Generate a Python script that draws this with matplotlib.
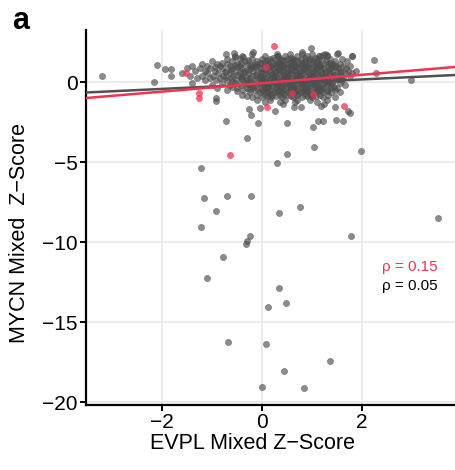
import matplotlib

matplotlib.use("Agg")
import matplotlib.pyplot as plt
import numpy as np

plt.rcParams["font.family"] = ["Liberation Sans", "DejaVu Sans"]

# dense core of the cloud: MYCN z -> list of EVPL z
core_rows = {
    1.75: [-0.2, 0.3, 0.55, 0.8, 1.0, 1.25, 1.5],
    1.6: [-0.55, -0.4, 0.05, 0.3, 0.45, 0.7, 0.9, 1.15, 1.3, 1.8],
    1.45: [-0.7, -0.45, -0.2, 0.0, 0.15, 0.35, 0.5, 0.62, 0.78, 0.95, 1.1, 1.35, 1.6],
    1.3: [-1.0, -0.6, -0.35, -0.1, 0.05, 0.2, 0.33, 0.45, 0.6, 0.72, 0.85, 1.0, 1.12,
          1.28, 1.45, 1.7],
    1.15: [-1.2, -0.9, -0.7, -0.5, -0.3, -0.15, 0.0, 0.12, 0.25, 0.38, 0.5, 0.63, 0.75,
           0.88, 1.02, 1.15, 1.3, 1.42, 1.55],
    1.0: [-1.4, -1.1, -0.85, -0.65, -0.45, -0.25, -0.1, 0.05, 0.18, 0.3, 0.42, 0.55, 0.68,
          0.8, 0.92, 1.05, 1.18, 1.32, 1.48, 1.62, 1.75],
    0.85: [-1.5, -1.25, -1.05, -0.8, -0.6, -0.4, -0.22, -0.05, 0.1, 0.22, 0.35, 0.48, 0.6,
           0.72, 0.85, 0.98, 1.1, 1.22, 1.38, 1.52, 1.68],
    0.7: [-1.35, -1.15, -0.95, -0.72, -0.52, -0.35, -0.18, 0.0, 0.14, 0.27, 0.4, 0.52,
          0.65, 0.78, 0.9, 1.02, 1.15, 1.28, 1.4, 1.55, 1.72, 1.88],
    0.55: [-1.6, -1.1, -0.88, -0.65, -0.45, -0.28, -0.1, 0.05, 0.2, 0.33, 0.45, 0.58, 0.7,
           0.82, 0.95, 1.08, 1.2, 1.35, 1.5, 1.65, 1.8],
    0.4: [-1.45, -1.2, -0.98, -0.78, -0.58, -0.4, -0.2, -0.05, 0.1, 0.24, 0.37, 0.5, 0.62,
          0.75, 0.88, 1.0, 1.12, 1.25, 1.4, 1.58, 1.75],
    0.25: [-1.3, -1.05, -0.85, -0.62, -0.42, -0.25, -0.08, 0.06, 0.18, 0.3, 0.43, 0.56,
           0.68, 0.8, 0.93, 1.05, 1.18, 1.32, 1.48, 1.62],
    0.1: [-1.15, -0.92, -0.7, -0.5, -0.3, -0.12, 0.02, 0.15, 0.28, 0.4, 0.52, 0.65, 0.77,
          0.9, 1.02, 1.15, 1.3, 1.45, 1.6],
    -0.05: [-1.4, -0.8, -0.55, -0.35, -0.18, -0.02, 0.12, 0.25, 0.38, 0.5, 0.62, 0.75,
            0.88, 1.0, 1.12, 1.25, 1.4, 1.55],
    -0.2: [-1.0, -0.65, -0.42, -0.22, -0.05, 0.1, 0.22, 0.35, 0.48, 0.6, 0.72, 0.85, 0.97,
           1.1, 1.22, 1.38, 1.65],
    -0.35: [-0.9, -0.5, -0.3, -0.1, 0.05, 0.18, 0.3, 0.45, 0.57, 0.7, 0.82, 0.95, 1.08,
            1.2, 1.35, 1.5],
    -0.5: [-0.7, -0.38, -0.15, 0.0, 0.15, 0.28, 0.42, 0.55, 0.68, 0.8, 0.92, 1.05, 1.18,
           1.3, 1.45],
    -0.65: [-0.25, -0.05, 0.1, 0.25, 0.38, 0.52, 0.65, 0.78, 0.9, 1.05, 1.2, 1.38, 1.55],
    -0.8: [-0.4, -0.1, 0.05, 0.2, 0.35, 0.5, 0.7, 0.85, 0.98, 1.15, 1.32],
    -0.95: [-0.2, 0.0, 0.18, 0.4, 0.62, 0.8, 1.0, 1.22, 1.45],
    -1.1: [-0.1, 0.15, 0.45, 0.7, 0.95, 1.3],
    -1.25: [0.05, 0.35, 0.65, 1.1],
    # in-between rows filling the darkest part of the cloud
    1.52: [0.22, 0.58, 0.85, 1.05],
    1.37: [-0.28, 0.1, 0.4, 0.66, 0.93, 1.2],
    1.22: [-0.8, -0.42, -0.05, 0.3, 0.56, 0.8, 1.08, 1.36],
    1.07: [-0.55, -0.2, 0.12, 0.36, 0.6, 0.86, 1.12, 1.4],
    0.92: [-0.95, -0.5, -0.15, 0.16, 0.42, 0.66, 0.92, 1.16, 1.45],
    0.77: [-0.62, -0.28, 0.07, 0.33, 0.58, 0.84, 1.08, 1.34],
    0.62: [-0.75, -0.38, -0.02, 0.26, 0.52, 0.76, 1.02, 1.28, 1.58],
    0.47: [-0.5, -0.12, 0.17, 0.44, 0.68, 0.94, 1.18, 1.46],
    0.32: [-0.72, -0.33, 0.0, 0.24, 0.5, 0.74, 0.99, 1.25],
    0.17: [-0.4, -0.02, 0.22, 0.46, 0.71, 0.96, 1.22, 1.52],
    0.02: [-0.6, -0.25, 0.07, 0.32, 0.56, 0.82, 1.06, 1.33],
    -0.13: [-0.3, 0.04, 0.29, 0.54, 0.79, 1.04, 1.3],
    -0.28: [-0.6, -0.18, 0.12, 0.4, 0.64, 0.9, 1.15, 1.44],
    -0.43: [-0.25, 0.08, 0.35, 0.62, 0.86, 1.12],
    -0.58: [-0.5, 0.02, 0.32, 0.58, 0.84, 1.12, 1.3],
    -0.73: [0.15, 0.44, 0.72, 0.96],
    -0.88: [-0.3, 0.1, 0.28, 0.58, 0.9, 1.08],
}

# scattered grey points outside the core
grey_x = [-3.2, -2.11, -2.16, -1.94, -1.83, -1.82, -0.93, -0.92, -0.73, -0.56, -0.55,
          -0.39, -0.19, 0.31, 0.8, 0.97, 1.14, 1.22, 1.3, 1.51, 1.8, 2.23, 2.28, 2.98,
          -0.27, -0.23, -0.08, -0.04, 0.25, 0.41, 0.49, 0.63, 0.77, 1.01, 1.12, 1.21,
          1.17, 1.24, 1.46, 1.47, 1.61, 1.71, 1.75, -0.72, -0.31, 1.03, 0.49, 1.97,
          0.3, -1.23, -1.16, -0.7, -0.23, -0.92, 0.34, 0.76, -1.23, 3.52, -0.24, -0.31,
          -0.32, 1.77, -0.79, -1.11, 0.33, 0.47, 0.11, -0.69, 0.08, 1.36, 0.44, 0.0, 0.83]
grey_y = [0.39, 1.06, -0.02, 0.81, 0.79, 0.4, -1.02, -1.17, 1.73, 1.83, 1.58,
          1.58, 1.85, 1.65, 1.85, 2.1, 1.65, 1.71, 1.71, 1.79, 1.65, 1.38, 0.54, 0.13,
          -1.71, -2.04, -2.54, -1.6, -1.79, -1.38, -2.54, -1.56, -1.58, -2.83, -2.42, -2.42,
          -1.5, -1.38, -1.54, -2.4, -2.46, -1.79, -1.96, -2.46, -3.5, -4.04, -4.48, -4.31,
          -5.06, -5.38, -7.25, -7.1, -7.13, -8.08, -8.21, -7.81, -9.04, -8.5, -9.65, -9.94,
          -10.13, -9.6, -10.92, -12.27, -12.85, -13.81, -14.08, -16.27, -16.36, -17.44,
          -18.06, -19.06, -19.1]

red_x = [0.23, -1.53, -1.27, -1.27, 0.07, 0.59, 1.02, 0.09, 1.63, -0.65]
red_y = [2.27, 0.58, -0.69, -1.02, 0.97, -0.69, -0.72, -1.58, -1.47, -4.58]

# regression lines (slope, intercept)
fit_all = (0.148, -0.13)
fit_red = (0.263, -0.07)
rho_red = 0.15
rho_all = 0.05

GREY = "#4d4d4d"
RED = "#f0334f"

core_x = [x for y, xs in core_rows.items() for x in xs]
core_y = [y for y, xs in core_rows.items() for x in xs]

fig = plt.figure(figsize=(4.56, 4.70), dpi=100)
ax = fig.add_axes([0.189, 0.138, 0.809, 0.798])

ax.scatter(core_x + grey_x, core_y + grey_y, s=20, color=GREY, alpha=0.65,
           linewidths=0.4, edgecolors=GREY, zorder=2)
ax.scatter(red_x, red_y, s=20, color=RED, alpha=0.75, linewidths=0.4,
           edgecolors=RED, zorder=3)

xlim = (-3.52, 3.86)
xs = np.array(xlim)
ax.plot(xs, fit_all[0] * xs + fit_all[1], color="#505050", lw=1.8, zorder=4)
ax.plot(xs, fit_red[0] * xs + fit_red[1], color=RED, lw=1.8, zorder=5)

ax.text(2.4, -11.56, f"ρ = {rho_red:.2f}", color=RED, fontsize=11, va="center")
ax.text(2.4, -12.75, f"ρ = {rho_all:.2f}", color="black", fontsize=11, va="center")

ax.set_xlim(*xlim)
ax.set_ylim(-20.19, 3.25)
ax.set_xticks([-2, 0, 2])
ax.set_yticks([0, -5, -10, -15, -20])
ax.set_yticklabels(["0", "−5", "−10", "−15", "−20"])
ax.set_xticklabels(["−2", "0", "2"])
ax.grid(True, color="#ebebeb", lw=1.5, zorder=0)
ax.set_axisbelow(True)
for side in ("top", "right"):
    ax.spines[side].set_visible(False)
for side in ("left", "bottom"):
    ax.spines[side].set_linewidth(1.6)
ax.tick_params(axis="both", length=4, width=1.4, labelsize=15, color="black",
               labelcolor="black", pad=2)

ax.set_xlabel("EVPL Mixed Z−Score", fontsize=15.5, labelpad=4)
ax.set_ylabel("MYCN Mixed  Z−Score", fontsize=15.5, labelpad=5)
ax.xaxis.set_label_coords(0.45, -0.075)
ax.yaxis.set_label_coords(-0.152, 0.46)
fig.text(0.026, 0.988, "a", fontsize=22, fontweight="bold", va="top", ha="left")

fig.savefig("out.png", dpi=100)
